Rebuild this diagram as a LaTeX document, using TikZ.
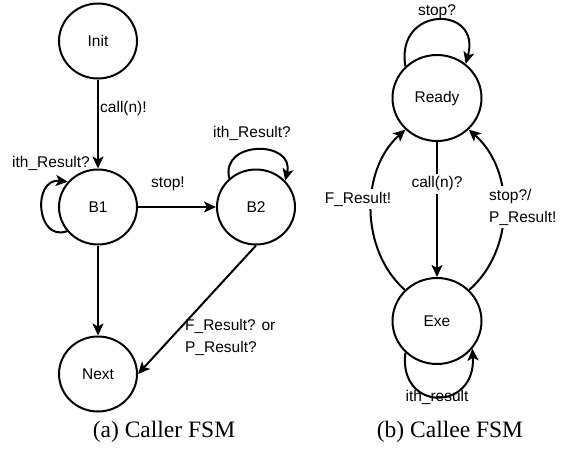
\documentclass[tikz,border=0pt]{standalone}
\usepackage{fontspec}
\setmainfont{Liberation Sans}
\newfontfamily\capfont{Liberation Serif}
\usetikzlibrary{arrows.meta,shapes.geometric}

\begin{document}
\begin{tikzpicture}[x=1pt,y=-1pt,
  every node/.style={font=\fontsize{15.5}{22}\selectfont},
  lstate/.style={draw, ellipse, line width=2pt, minimum width=78pt, minimum height=75pt, inner sep=0pt},
  rstate/.style={lstate, minimum width=89pt, minimum height=86pt},
  tr/.style={line width=2pt, -{Stealth[length=12pt,width=11pt,inset=3pt]}},
  lbl/.style={inner sep=1pt},
  blank/.style={inner sep=3pt, fill=white},
  captext/.style={font=\capfont\fontsize{23.5}{26}\selectfont}]
\useasboundingbox (0,0) rectangle (575,452);

% ---- caller machine ----
\node[lstate] (init) at (98,41)  {Init};
\node[lstate] (b1)   at (98,207) {B1};
\node[lstate] (b2)   at (256,207) {B2};
\node[lstate] (next) at (98,374) {Next};

\draw[tr] (init) -- (b1);
\node[lbl, anchor=west] (lcall) at (99,108) {call(n)!};

\draw[tr] (b1) -- (b2);
\node[lbl] (lstop) at (168,184) {stop!};

\draw[tr] (b1) -- (next);
\draw[tr] (b2.south) -- (next.east);
\node[lbl, anchor=west, align=left] (lfp) at (184,337) {F\_Result? or\\P\_Result?};

\draw[tr] (b1.218) .. controls (36,242) and (32,178) .. (b1.140);
\node[lbl] (lb1) at (51,163) {ith\_Result?};

\draw[tr] (b2.133) .. controls (220,140) and (295,140) .. (b2.42);
\node[lbl] (lb2) at (252,133) {ith\_Result?};

\node[captext] (capa) at (164,432) {(a)\ Caller FSM};

% ---- callee machine ----
\node[rstate] (ready) at (437,98)  {Ready};
\node[rstate] (exe)   at (437,321) {Exe};

\draw[tr] (ready.135) .. controls (395,5) and (482,5) .. (ready.50);
\node[lbl] (lrs) at (437,12) {stop?};

\draw[tr] (ready) -- (exe) node[blank, pos=0.31] (lcallq) {call(n)?};

\draw[tr] (exe.136) .. controls (360,250) and (360,170) .. (ready.225);
\node[blank] (lfr) at (358,199) {F\_Result!};

\draw[tr] (exe.44) .. controls (515,250) and (515,170) .. (ready.-45);
\node[blank, anchor=west, align=left] (lsp) at (486,207) {stop?/\\P\_Result!};

\node[lbl] (lith) at (437,397) {ith\_result};
\draw[tr] (exe.225) .. controls (398,412) and (476,412) .. (exe.-38);

\node[captext] (capb) at (450,432) {(b)\ Callee FSM};
\end{tikzpicture}
\end{document}
